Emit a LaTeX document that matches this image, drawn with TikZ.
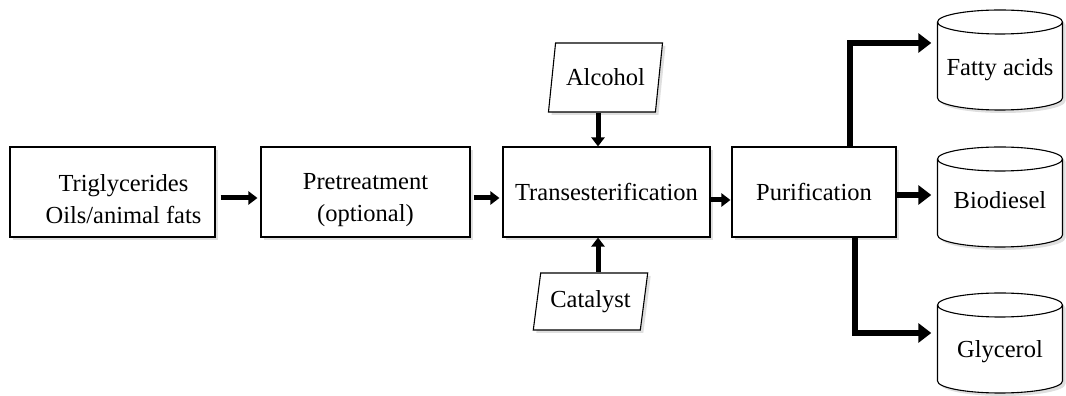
\documentclass[tikz,border=0pt]{standalone}
\usepackage{fontspec}
\setmainfont{Liberation Serif}
\usetikzlibrary{arrows.meta,shapes.geometric,shadows}

% storage drum: #1 name, #2 centre x, #3 top y, #4 label y, #5 label
\newcommand\drum[5]{%
  \path[softshadow,fill=white,draw,line width=1.1pt]
    ({#2-62.5},{#3-12}) -- ({#2-62.5},{#3-100+12})
    arc[start angle=180,end angle=360,x radius=62.5,y radius=12]
    -- ({#2+62.5},{#3-12})
    arc[start angle=0,end angle=180,x radius=62.5,y radius=12] -- cycle;
  \draw[line width=1.1pt] ({#2-62.5},{#3-12})
    arc[start angle=180,end angle=360,x radius=62.5,y radius=12];
  \node[minimum width=125pt,inner sep=0pt] (#1) at (#2,#4) {#5};
}
% strut that lowers a two-line label a little inside its box
\newcommand\lowerstrut{\rule{0pt}{32pt}}

\begin{document}
\begin{tikzpicture}[x=1pt,y=1pt,
  font=\fontsize{24.5}{32}\selectfont,
  softshadow/.style={drop shadow={shadow xshift=3pt,shadow yshift=-3pt,opacity=0.25}},
  stage/.style={draw,line width=1.1pt,fill=white,softshadow,minimum height=90pt,
    align=center,inner sep=0pt},
  feed/.style={trapezium,draw,line width=1.1pt,fill=white,softshadow,
    trapezium stretches=true,inner sep=0pt},
  arr/.style={line width=5pt,-{Triangle[length=9pt,width=13pt]}},
  bigarr/.style={line width=6.5pt,line join=miter,-{Triangle[length=13pt,width=19pt]}}]
\useasboundingbox (0,0) rectangle (1066,396);

% process stages
\node[stage,minimum width=205pt] (b1) at (112.5,204)
  {\lowerstrut\hspace*{22pt}Triglycerides\\\hspace*{22pt}Oils/animal fats};
\node[stage,minimum width=209pt] (b2) at (365.5,204)
  {\lowerstrut Pretreatment\\(optional)};
\node[stage,minimum width=207pt] (b3) at (606.5,204) {Transesterification};
\node[stage,minimum width=164pt] (b4) at (814,204) {Purification};

% reactant inputs
\node[feed,trapezium left angle=72,trapezium right angle=108,
  minimum width=115pt,minimum height=69pt] (alc) at (605.5,318.5) {Alcohol};
\node[feed,trapezium left angle=75,trapezium right angle=105,
  minimum width=115pt,minimum height=57pt] (cat) at (590.5,94.5) {Catalyst};

% products
\drum{fa}{1000}{386}{326}{Fatty acids}
\drum{bd}{1000}{249}{196}{Biodiesel}
\drum{gl}{1000}{103}{44}{Glycerol}

% main line
\draw[arr] ([xshift=5pt,yshift=-6pt]b1.east) -- ([xshift=-3pt,yshift=-6pt]b2.west);
\draw[arr] ([xshift=3pt,yshift=-6pt]b2.east) -- ([xshift=-3pt,yshift=-6pt]b3.west);
\draw[arr] ([yshift=-8pt]b3.east) -- ([xshift=-1pt,yshift=-8pt]b4.west);

% inputs into the reactor
\draw[arr] ([xshift=-7.5pt]alc.south) -- ([xshift=-7.5pt]alc.south |- b3.north);
\draw[arr] ([xshift=7.5pt]cat.north) -- ([xshift=7.5pt]cat.north |- b3.south);

% outputs of purification
\draw[bigarr] ([xshift=36pt]b4.north) |- ([xshift=-6pt,yshift=27pt]fa.west);
\draw[bigarr] ([yshift=-3pt]b4.east) -- ([xshift=-6pt,yshift=-3pt]bd.west |- b4.east);
\draw[bigarr] ([xshift=41pt]b4.south) |- ([xshift=-6pt,yshift=19pt]gl.west);
\end{tikzpicture}
\end{document}
